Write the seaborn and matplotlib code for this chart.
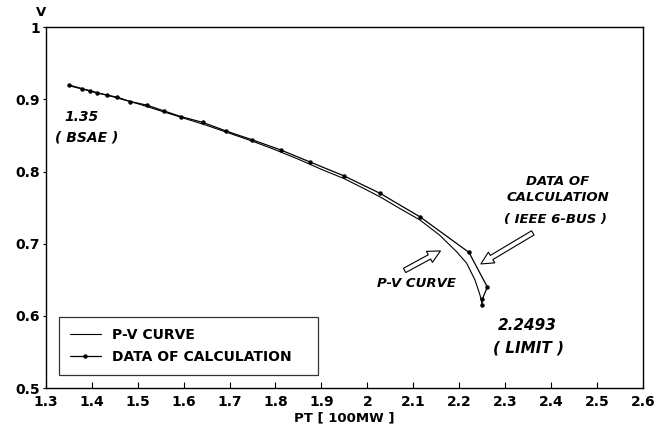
import pandas as pd
import matplotlib.pyplot as plt
import seaborn as sns

# P-V curve
pv_p = [1.35, 1.40, 1.45, 1.50, 1.55, 1.60, 1.65, 1.70, 1.75, 1.80, 1.85, 1.90,
        1.95, 2.00, 2.03, 2.07, 2.114, 2.157, 2.194, 2.216, 2.234, 2.245, 2.2493]
pv_v = [0.919, 0.911, 0.903, 0.894, 0.884, 0.874, 0.864, 0.853, 0.842, 0.830, 0.817, 0.803,
        0.790, 0.774, 0.764, 0.749, 0.733, 0.712, 0.689, 0.673, 0.650, 0.629, 0.618]

# calculated points (IEEE 6-bus)
calc_p = [1.35, 1.378, 1.396, 1.412, 1.433, 1.455, 1.484, 1.520, 1.557, 1.595, 1.642,
          1.693, 1.749, 1.811, 1.876, 1.949, 2.027, 2.115, 2.221, 2.261, 2.250, 2.2493]
calc_v = [0.920, 0.915, 0.912, 0.909, 0.906, 0.903, 0.897, 0.892, 0.884, 0.876, 0.868,
          0.856, 0.844, 0.830, 0.813, 0.794, 0.770, 0.737, 0.688, 0.640, 0.623, 0.615]

x_ticks = [1.3, 1.4, 1.5, 1.6, 1.7, 1.8, 1.9, 2, 2.1, 2.2, 2.3, 2.4, 2.5, 2.6]
x_labels = ['1.3', '1.4', '1.5', '1.6', '1.7', '1.8', '1.9', '2', '2.1', '2.2', '2.3', '2.4', '2.5', '2.6']
y_ticks = [0.5, 0.6, 0.7, 0.8, 0.9, 1]
y_labels = ['0.5', '0.6', '0.7', '0.8', '0.9', '1']

pv_df = pd.DataFrame({'p': pv_p, 'v': pv_v})
calc_df = pd.DataFrame({'p': calc_p, 'v': calc_v})

sns.set_style('ticks')
plt.rcParams['font.family'] = ['DejaVu Sans']
plt.rcParams['font.weight'] = 'bold'
plt.rcParams['text.color'] = 'black'
plt.rcParams['axes.labelcolor'] = 'black'
plt.rcParams['xtick.color'] = 'black'
plt.rcParams['ytick.color'] = 'black'

fig, ax = plt.subplots(figsize=(6.72, 4.38), dpi=100)
fig.subplots_adjust(left=0.068, right=0.957, bottom=0.114, top=0.938)

sns.lineplot(data=pv_df, x='p', y='v', sort=False, color='black', lw=0.8,
             ax=ax, label='P-V CURVE')
sns.lineplot(data=calc_df, x='p', y='v', sort=False, color='black', lw=0.9,
             marker='o', markersize=3.2, markeredgewidth=0, ax=ax,
             label='DATA OF CALCULATION')

ax.set_xlim(1.3, 2.6)
ax.set_ylim(0.5, 1)
ax.set_xticks(x_ticks)
ax.set_xticklabels(x_labels, fontsize=10, fontweight='bold')
ax.set_yticks(y_ticks)
ax.set_yticklabels(y_labels, fontsize=10, fontweight='bold')
ax.tick_params(axis='x', direction='in', length=4, width=0.8, pad=5)
ax.tick_params(axis='y', direction='out', length=2, width=0.8, pad=2)
for s in ax.spines.values():
    s.set_linewidth(1.0)
    s.set_color('black')

ax.set_xlabel('PT [ 100MW ]', fontsize=9.5, fontweight='bold', labelpad=2)
ax.set_ylabel('')
ax.text(-0.008, 1.04, 'V', transform=ax.transAxes, fontsize=9.5,
        fontweight='bold', ha='center', va='center')

# annotations
ital = dict(fontstyle='italic', fontweight='bold', ha='center', va='center')
ax.text(1.378, 0.875, '1.35', fontsize=10, **ital)
ax.text(1.389, 0.847, '( BSAE )', fontsize=10, **ital)
ax.text(2.414, 0.786, 'DATA OF', fontsize=9.5, **ital)
ax.text(2.414, 0.764, 'CALCULATION', fontsize=9.5, **ital)
ax.text(2.41, 0.734, '( IEEE 6-BUS )', fontsize=9.5, **ital)
ax.text(2.107, 0.645, 'P-V CURVE', fontsize=9.5, **ital)
ax.text(2.347, 0.586, '2.2493', fontsize=11, **ital)
ax.text(2.351, 0.555, '( LIMIT )', fontsize=11, **ital)

arrow = dict(arrowstyle='simple,head_length=0.9,head_width=0.9,tail_width=0.35',
             fc='white', ec='black', lw=0.8, shrinkA=0, shrinkB=0)
ax.annotate('', xy=(2.159, 0.690), xytext=(2.081, 0.663), arrowprops=arrow)
ax.annotate('', xy=(2.247, 0.672), xytext=(2.360, 0.715), arrowprops=arrow)

leg = ax.legend(loc='lower left', bbox_to_anchor=(0.022, 0.036, 0.434, 0.158),
                mode='expand', frameon=True, fancybox=False, edgecolor='black',
                fontsize=10, handlelength=2.2, borderaxespad=0, borderpad=0.8,
                labelspacing=0.6, handletextpad=0.8)
leg.get_frame().set_linewidth(0.9)
for t in leg.get_texts():
    t.set_fontweight('bold')

plt.savefig('out.png', dpi=100)
plt.close(fig)
